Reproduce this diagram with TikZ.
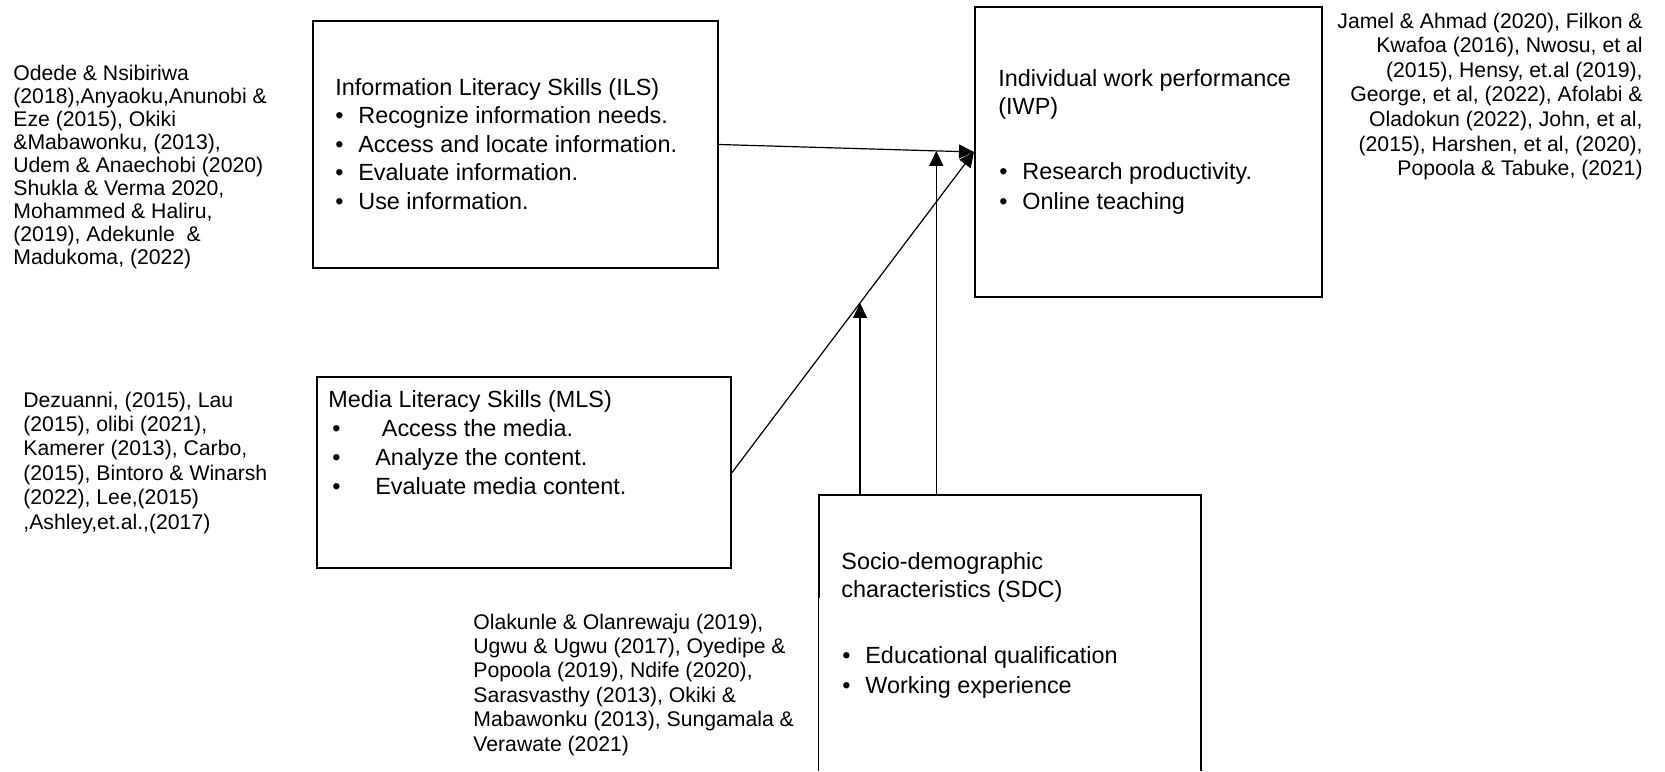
\documentclass[tikz,border=0pt]{standalone}
\usepackage{fontspec}
\setmainfont{Liberation Sans}
\usetikzlibrary{arrows.meta,fit,calc}
\newcommand\blt[2][11.5pt]{\makebox[#1][l]{•}#2}
\begin{document}
\begin{tikzpicture}[x=0.5pt,y=-0.5pt,
  box/.style={draw, line width=1pt, inner sep=0pt},
  conn/.style={line width=0.6pt, -{Triangle[length=7.5pt,width=7pt]}},
  cite/.style={inner sep=0pt, anchor=base west},
  txt/.style={inner sep=0pt, anchor=base west}]
\useasboundingbox (0,0) rectangle (1665,771);

% boxes
\node[box, fit={(313,21) (718,268)}] (ils) {};
\node[box, fit={(975,7) (1322,297)}] (iwp) {};
\node[box, fit={(317,377) (731,568)}] (mls) {};
\node[inner sep=0pt, fit={(819,495) (1201,771)}] (sdc) {};
\coordinate (sdck) at ($(sdc.north west)+(0,103)$);
\draw[line width=1pt] (sdck) -- (sdc.north west) -- (sdc.north east) -- (sdc.south east);
\draw[line width=0.6pt] (sdck) -- (sdc.south west);

% box texts
\node[txt, font=\fontsize{11.7}{14.3}\selectfont] (ilst) at (335,95) {\begin{tabular}[t]{@{}l@{}}
Information Literacy Skills (ILS)\\
\blt{Recognize information needs.}\\
\blt{Access and locate information.}\\
\blt{Evaluate information.}\\
\blt{Use information.}
\end{tabular}};

\node[txt, font=\fontsize{11.7}{14.65}\selectfont] (mlst) at (328,407) {\begin{tabular}[t]{@{}l@{}}
Media Literacy Skills (MLS)\\
\hspace{2pt}\blt[21.5pt]{ Access the media.}\\
\hspace{2pt}\blt[21.5pt]{Analyze the content.}\\
\hspace{2pt}\blt[21.5pt]{Evaluate media content.}
\end{tabular}};

\node[txt, font=\fontsize{11.7}{14}\selectfont] (iwph) at (998,86) {\begin{tabular}[t]{@{}l@{}}
Individual work performance\\
(IWP)
\end{tabular}};
\node[txt, font=\fontsize{11.7}{15}\selectfont] (iwpb) at (999,179) {\begin{tabular}[t]{@{}l@{}}
\blt{Research productivity.}\\
\blt{Online teaching}
\end{tabular}};

\node[txt, font=\fontsize{11.7}{14}\selectfont] (sdch) at (841,569) {\begin{tabular}[t]{@{}l@{}}
Socio-demographic\\
characteristics (SDC)
\end{tabular}};
\node[txt, font=\fontsize{11.7}{15}\selectfont] (sdcb) at (842,663) {\begin{tabular}[t]{@{}l@{}}
\blt{Educational qualification}\\
\blt{Working experience}
\end{tabular}};

% citations
\node[cite, font=\fontsize{10.6}{11.5}\selectfont] (c1) at (13,80) {\begin{tabular}[t]{@{}l@{}}
Odede \& Nsibiriwa\\
(2018),Anyaoku,Anunobi \&\\
Eze (2015), Okiki\\
\&Mabawonku, (2013),\\
Udem \& Anaechobi (2020)\\
Shukla \& Verma 2020,\\
Mohammed \& Haliru,\\
(2019), Adekunle\ \ \&\\
Madukoma, (2022)
\end{tabular}};

\node[cite, font=\fontsize{10.6}{12.2}\selectfont] (c2) at (23,407) {\begin{tabular}[t]{@{}l@{}}
Dezuanni, (2015), Lau\\
(2015), olibi (2021),\\
Kamerer (2013), Carbo,\\
(2015), Bintoro \& Winarsh\\
(2022), Lee,(2015)\\
,Ashley,et.al.,(2017)
\end{tabular}};

\node[cite, font=\fontsize{10.6}{12.2}\selectfont] (c3) at (473,629) {\begin{tabular}[t]{@{}l@{}}
Olakunle \& Olanrewaju (2019),\\
Ugwu \& Ugwu (2017), Oyedipe \&\\
Popoola (2019), Ndife (2020),\\
Sarasvasthy (2013), Okiki \&\\
Mabawonku (2013), Sungamala \&\\
Verawate (2021)
\end{tabular}};

\node[inner sep=0pt, anchor=base east, font=\fontsize{10.6}{12.3}\selectfont] (c4) at (1643,28) {\begin{tabular}[t]{@{}r@{}}
Jamel \& Ahmad (2020), Filkon \&\\
Kwafoa (2016), Nwosu, et al\\
(2015), Hensy, et.al (2019),\\
George, et al, (2022), Afolabi \&\\
Oladokun (2022), John, et al,\\
(2015), Harshen, et al, (2020),\\
Popoola \& Tabuke, (2021)
\end{tabular}};

% connectors
\draw[conn] (ils.east) -- (iwp.west) coordinate[pos=0.852] (m2);
\draw[conn] (mls.east) -- (iwp.west) coordinate[pos=0.529] (m1);
\draw[conn] (sdc.north -| m1) -- (m1);
\draw[conn] (sdc.north -| m2) -- (m2);
\end{tikzpicture}
\end{document}
